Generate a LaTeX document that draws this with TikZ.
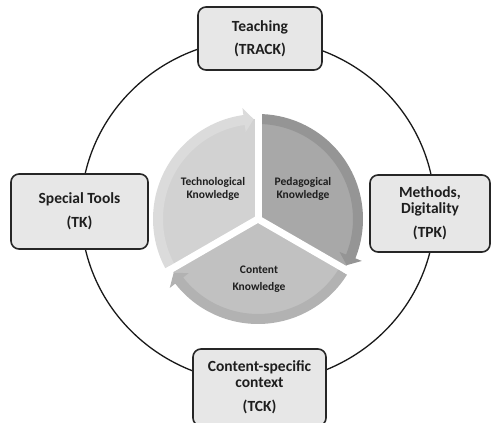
\documentclass[tikz,border=0pt]{standalone}
\usepackage{fontspec}
\setmainfont{Carlito}
\definecolor{boxgray}{HTML}{E7E7E7}
\definecolor{txt}{HTML}{1E1E1E}
\definecolor{techw}{HTML}{D2D2D2}
\definecolor{techb}{HTML}{DBDBDB}
\definecolor{pedw}{HTML}{A8A8A8}
\definecolor{pedb}{HTML}{959595}
\definecolor{conw}{HTML}{C1C1C1}
\definecolor{conb}{HTML}{B2B2B2}
\begin{document}
\begin{tikzpicture}[x=1pt,y=1pt,
  box/.style={draw=black!85, line width=1.6pt, rounded corners=8pt, fill=boxgray,
    align=center, inner sep=0pt, text=txt,
    font=\fontsize{15.5}{16}\selectfont\bfseries},
  seglabel/.style={align=center, text=txt, inner sep=0pt},
  gapline/.style={white, line width=7pt}]
\useasboundingbox (0,0) rectangle (491,423);
% outer cycle
\draw[line width=1.3pt, black!90] (258,212) ellipse [x radius=177, y radius=172];
% inner segmented cycle
\begin{scope}[shift={(258,204)}]
  \coordinate (ctr) at (0,0);
  % wedges
  \fill[techw] (ctr) -- (210:100) arc[start angle=210, end angle=90, radius=100] -- cycle;
  \fill[pedw]  (ctr) -- (90:100) arc[start angle=90, end angle=-30, radius=100] -- cycle;
  \fill[conw]  (ctr) -- (-30:100) arc[start angle=-30, end angle=-150, radius=100] -- cycle;
  % arrow bands
  \fill[techb] (208:95) arc[start angle=208, end angle=98, radius=95]
     -- (98:88) -- (92.5:100) -- (98:112) -- (98:105)
     arc[start angle=98, end angle=208, radius=105] -- cycle;
  \fill[pedb] (88:95) arc[start angle=88, end angle=-22, radius=95]
     -- (-22:88) -- (-27.5:100) -- (-22:112) -- (-22:105)
     arc[start angle=-22, end angle=88, radius=105] -- cycle;
  \fill[conb] (-32:95) arc[start angle=-32, end angle=-142, radius=95]
     -- (-142:88) -- (-147.5:100) -- (-142:112) -- (-142:105)
     arc[start angle=-142, end angle=-32, radius=105] -- cycle;
  % gaps
  \draw[gapline] (ctr) -- (90:116);
  \draw[gapline] (ctr) -- (-30:116);
  \draw[gapline] (ctr) -- (210:116);
  % labels
  \node[seglabel, font=\fontsize{11.5}{12.5}\selectfont\bfseries] (tk) at (-45,30) {Technological\\Knowledge};
  \node[seglabel, font=\fontsize{11.5}{12.5}\selectfont\bfseries] (pk) at (45,30) {Pedagogical\\Knowledge};
  \node[seglabel, font=\fontsize{11.5}{17}\selectfont\bfseries] (ck) at (1,-60) {Content\\Knowledge};
\end{scope}
% outer boxes
\node[box, minimum width=124pt, minimum height=63pt] (teach) at (260,384.5) {Teaching\\[7pt](TRACK)};
\node[box, minimum width=137pt, minimum height=75pt] (tools) at (79.5,211.5) {Special Tools\\[8pt](TK)};
\node[box, minimum width=120pt, minimum height=77pt] (meth) at (430,209.5) {Methods,\\Digitality\\[8pt](TPK)};
\node[box, minimum width=133pt, minimum height=77pt] (ctx) at (259.5,35.5) {Content-specific\\context\\[8pt](TCK)};
\end{tikzpicture}
\end{document}
